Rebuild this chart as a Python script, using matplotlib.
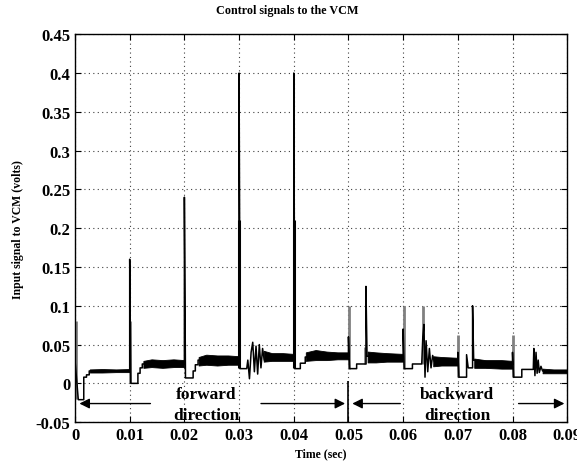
import matplotlib
matplotlib.use("Agg")
import matplotlib.pyplot as plt

# main (black) control signal
trace_t = [0.0000, 0.0006, 0.0016, 0.0016, 0.0021, 0.0021, 0.0026, 0.0026, 0.0100,
           0.0100, 0.0102, 0.0115, 0.0115, 0.0119, 0.0119, 0.0123, 0.0123, 0.0200,
           0.0200, 0.0202, 0.0216, 0.0216, 0.0220, 0.0220, 0.0225, 0.0225, 0.0300,
           0.0300, 0.0302, 0.0314, 0.0316, 0.0319, 0.0322, 0.0325, 0.0328, 0.0331,
           0.0334, 0.0337, 0.0340, 0.0343, 0.0346, 0.0400,
           0.0400, 0.0402, 0.0412, 0.0412, 0.0421, 0.0421, 0.0500,
           0.0500, 0.0502, 0.0515, 0.0515, 0.0532, 0.0532, 0.0534, 0.0600,
           0.0600, 0.0602, 0.0617, 0.0617, 0.0634, 0.0636, 0.0638, 0.0640, 0.0642,
           0.0645, 0.0648, 0.0651, 0.0654, 0.0657, 0.0700,
           0.0700, 0.0702, 0.0716, 0.0716, 0.0719, 0.0727, 0.0727, 0.0729, 0.0800,
           0.0800, 0.0802, 0.0817, 0.0817, 0.0838, 0.0839, 0.0841, 0.0843, 0.0845,
           0.0847, 0.0849, 0.0852, 0.0855, 0.0900]
trace_v = [0.030, -0.021, -0.021, 0.008, 0.008, 0.011, 0.011, 0.016, 0.016,
           0.160, 0.000, 0.000, 0.013, 0.013, 0.020, 0.020, 0.025, 0.025,
           0.240, 0.007, 0.007, 0.016, 0.016, 0.024, 0.024, 0.030, 0.030,
           0.400, 0.019, 0.019, 0.030, 0.006, 0.040, 0.053, 0.015, 0.048,
           0.012, 0.050, 0.020, 0.045, 0.030, 0.034,
           0.400, 0.019, 0.019, 0.026, 0.026, 0.034, 0.035,
           0.060, 0.019, 0.019, 0.025, 0.025, 0.125, 0.035, 0.034,
           0.070, 0.019, 0.019, 0.025, 0.025, 0.060, 0.076, 0.008, 0.055,
           0.015, 0.045, 0.020, 0.036, 0.028, 0.028,
           0.040, 0.008, 0.008, 0.037, 0.020, 0.020, 0.100, 0.030, 0.024,
           0.040, 0.008, 0.008, 0.018, 0.018, 0.045, 0.010, 0.040, 0.013,
           0.030, 0.014, 0.022, 0.016, 0.016]

# second (grey) trace, only visible as short spikes
grey_t = [0.0002, 0.0101, 0.0501, 0.0531, 0.0601, 0.0636, 0.0701, 0.0801]
grey_top = [0.080, 0.080, 0.100, 0.047, 0.100, 0.100, 0.062, 0.062]
grey_base = [-0.020, 0.000, 0.019, 0.025, 0.019, 0.025, 0.008, 0.008]

# thick part of the two tall spikes
thick_t = [0.0300, 0.0400]
thick_top = [0.210, 0.210]
thick_base = [0.020, 0.020]

# noisy stretches: time points with lower / upper envelope
noise_t = [[0.0027, 0.0050, 0.0075, 0.0100],
           [0.0125, 0.0140, 0.0160, 0.0180, 0.0200],
           [0.0226, 0.0240, 0.0260, 0.0280, 0.0300],
           [0.0345, 0.0360, 0.0380, 0.0400],
           [0.0422, 0.0440, 0.0460, 0.0480, 0.0500],
           [0.0535, 0.0550, 0.0570, 0.0600],
           [0.0655, 0.0670, 0.0700],
           [0.0730, 0.0750, 0.0780, 0.0800],
           [0.0855, 0.0875, 0.0900]]
noise_lo = [[0.0140, 0.0140, 0.0145, 0.0145],
            [0.020, 0.021, 0.020, 0.021, 0.021],
            [0.023, 0.024, 0.023, 0.024, 0.024],
            [0.028, 0.029, 0.029, 0.029],
            [0.029, 0.030, 0.030, 0.031, 0.031],
            [0.027, 0.027, 0.028, 0.028],
            [0.022, 0.023, 0.023],
            [0.020, 0.020, 0.019, 0.019],
            [0.013, 0.013, 0.013]]
noise_hi = [[0.0180, 0.0185, 0.0180, 0.0185],
            [0.029, 0.031, 0.030, 0.031, 0.030],
            [0.034, 0.037, 0.036, 0.036, 0.035],
            [0.042, 0.039, 0.039, 0.038],
            [0.040, 0.043, 0.041, 0.040, 0.040],
            [0.041, 0.040, 0.039, 0.038],
            [0.035, 0.034, 0.033],
            [0.032, 0.030, 0.030, 0.029],
            [0.019, 0.018, 0.018]]

x_ticks = [0, 0.01, 0.02, 0.03, 0.04, 0.05, 0.06, 0.07, 0.08, 0.09]
x_labels = ["0", "0.01", "0.02", "0.03", "0.04", "0.05", "0.06", "0.07", "0.08", "0.09"]
y_ticks = [-0.05, 0, 0.05, 0.1, 0.15, 0.2, 0.25, 0.3, 0.35, 0.4, 0.45]
y_labels = ["-0.05", "0", "0.05", "0.1", "0.15", "0.2", "0.25", "0.3", "0.35", "0.4", "0.45"]

ARROW_Y = -0.026
FONT = "Liberation Serif"

fig = plt.figure(figsize=(5.77, 4.64), dpi=100)
ax = fig.add_axes([0.130, 0.088, 0.853, 0.836])

ax.vlines(grey_t, grey_base, grey_top, color="0.5", lw=2.0, zorder=2)
ax.vlines(thick_t, thick_base, thick_top, color="black", lw=2.2, zorder=3)
for nt, lo, hi in zip(noise_t, noise_lo, noise_hi):
    ax.fill_between(nt, lo, hi, color="black", lw=0.6, zorder=3)
ax.plot(trace_t, trace_v, color="black", lw=1.1, zorder=4)

ax.set_xlim(0, 0.09)
ax.set_ylim(-0.05, 0.45)
ax.set_xticks(x_ticks, x_labels)
ax.set_yticks(y_ticks, y_labels)
ax.grid(True, color="0.25", linestyle=(0, (1, 3)), lw=0.8)
ax.tick_params(direction="in", top=True, right=True, length=4, width=0.8)
for lbl in ax.get_xticklabels() + ax.get_yticklabels():
    lbl.set_fontfamily(FONT)
    lbl.set_fontweight("bold")
    lbl.set_fontsize(12)
for s in ax.spines.values():
    s.set_linewidth(1.0)

# title sits left of the axes centre in the original
ax.set_title("Control signals to the VCM", fontfamily=FONT, fontweight="bold",
             fontsize=8.7, x=0.431, pad=15)
ax.set_xlabel("Time (sec)", fontfamily=FONT, fontweight="bold", fontsize=8.5, labelpad=3)
ax.set_ylabel("Input signal to VCM (volts)", fontfamily=FONT, fontweight="bold",
              fontsize=8.5, labelpad=8)

# direction arrows and labels
arrow = dict(arrowstyle="-|>", color="black", lw=1.0, mutation_scale=15)
ax.annotate("", xy=(0.0003, ARROW_Y), xytext=(0.0143, ARROW_Y), arrowprops=arrow)
ax.annotate("", xy=(0.0499, ARROW_Y), xytext=(0.0335, ARROW_Y), arrowprops=arrow)
ax.annotate("", xy=(0.0502, ARROW_Y), xytext=(0.0600, ARROW_Y), arrowprops=arrow)
ax.annotate("", xy=(0.0900, ARROW_Y), xytext=(0.0806, ARROW_Y), arrowprops=arrow)
ax.vlines([0.05], -0.05, 0.003, color="black", lw=1.2, zorder=5)
ax.text(0.0240, -0.014, "forward", ha="center", va="center", fontfamily=FONT,
        fontweight="bold", fontsize=12.5)
ax.text(0.0240, -0.041, "direction", ha="center", va="center", fontfamily=FONT,
        fontweight="bold", fontsize=12.5)
ax.text(0.0699, -0.014, "backward", ha="center", va="center", fontfamily=FONT,
        fontweight="bold", fontsize=12.5)
ax.text(0.0699, -0.041, "direction", ha="center", va="center", fontfamily=FONT,
        fontweight="bold", fontsize=12.5)

fig.savefig("out.png", dpi=100)
